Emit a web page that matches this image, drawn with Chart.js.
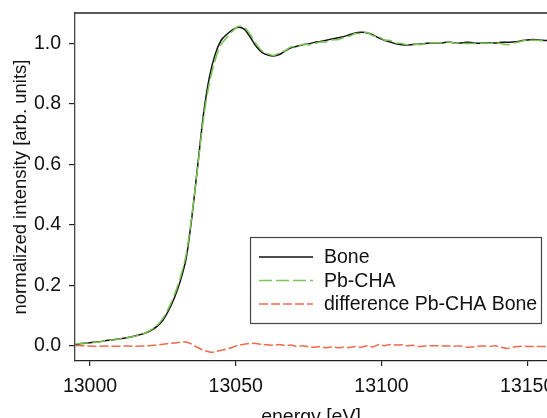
<!DOCTYPE html>
<html>
<head>
<meta charset="utf-8">
<script src="https://cdn.jsdelivr.net/npm/chart.js@4/dist/chart.umd.min.js"></script>
<style>
  html, body { margin: 0; padding: 0; background: #fff; }
  canvas { display: block; }
</style>
</head>
<body>
<canvas id="xanes" width="547" height="418"></canvas>
<script>
// DATA (energy in eV, intensities normalized)

var energy = [];
for (var e = 12995; e <= 13157; e += 2) energy.push(e);

var bone = [
    0.005, 0.008, 0.010, 0.012, 0.014, 0.017, 0.020, 0.022, 0.025, 0.028,
    0.032, 0.037, 0.043, 0.052, 0.065, 0.085, 0.118, 0.160, 0.215, 0.290,
    0.430, 0.600, 0.770, 0.890, 0.965, 1.010, 1.030, 1.045, 1.053, 1.046,
    1.020, 0.990, 0.970, 0.961, 0.958, 0.963, 0.975, 0.985, 0.990, 0.995,
    0.998, 1.003, 1.006, 1.010, 1.014, 1.018, 1.022, 1.028, 1.034, 1.036,
    1.035, 1.028, 1.018, 1.010, 1.004, 0.998, 0.995, 0.994, 0.996, 0.997,
    0.999, 1.001, 1.000, 1.002, 1.004, 1.002, 1.001, 1.003, 1.002, 1.000,
    1.001, 1.002, 1.001, 1.003, 1.003, 1.004, 1.006, 1.010, 1.012, 1.012,
    1.010, 1.009
];

var pbcha = [
    0.007, 0.009, 0.010, 0.011, 0.013, 0.017, 0.019, 0.021, 0.025, 0.028,
    0.031, 0.037, 0.043, 0.054, 0.068, 0.091, 0.126, 0.170, 0.227, 0.303,
    0.436, 0.595, 0.756, 0.870, 0.946, 0.996, 1.020, 1.041, 1.056, 1.052,
    1.029, 0.998, 0.975, 0.965, 0.960, 0.968, 0.976, 0.988, 0.988, 0.996,
    0.995, 0.999, 1.004, 1.004, 1.011, 1.012, 1.018, 1.023, 1.032, 1.032,
    1.036, 1.025, 1.022, 1.011, 1.009, 1.001, 0.999, 0.995, 0.998, 0.995,
    0.999, 1.002, 1.001, 1.002, 1.004, 1.001, 1.001, 0.999, 0.999, 0.999,
    1.001, 1.000, 1.002, 0.999, 0.995, 1.000, 1.004, 1.009, 1.010, 1.010,
    1.008, 1.007
];

var diff = [
    0.002, 0.001, 0.000, -0.001, -0.001, 0.000, -0.001, -0.001, 0.000, 0.000,
    -0.001, 0.000, 0.000, 0.002, 0.003, 0.006, 0.008, 0.010, 0.012, 0.013,
    0.006, -0.005, -0.014, -0.020, -0.019, -0.014, -0.010, -0.004, 0.003, 0.006,
    0.009, 0.008, 0.005, 0.004, 0.002, 0.005, 0.001, 0.003, -0.002, 0.001,
    -0.003, -0.004, -0.002, -0.006, -0.003, -0.006, -0.004, -0.005, -0.002, -0.004,
    0.001, -0.003, 0.004, 0.001, 0.005, 0.003, 0.004, 0.001, 0.002, -0.002,
    0.000, 0.001, 0.001, 0.000, 0.000, -0.001, 0.000, -0.004, -0.003, -0.001,
    0.000, -0.002, 0.001, -0.004, -0.008, -0.004, -0.002, -0.001, -0.002, -0.002,
    -0.002, -0.002
];

var xTicks = [13000, 13050, 13100, 13150];
var yTicks = [0.0, 0.2, 0.4, 0.6, 0.8, 1.0];

var FONT = "'Liberation Sans', Arial, sans-serif";

function pts(arr) {
    return energy.map(function (x, i) { return { x: x, y: arr[i] }; });
}

// legend drawn inside the plot, R style
var boxLegend = {
    id: 'boxLegend',
    afterDraw: function (chart) {
        var c = chart.ctx;
        var a = chart.chartArea;
        c.save();
        // top frame line
        c.strokeStyle = '#222';
        c.lineWidth = 1.3;
        c.beginPath();
        c.moveTo(a.left, a.top);
        c.lineTo(a.right, a.top);
        c.stroke();

        c.strokeStyle = '#444';
        c.lineWidth = 1.2;
        c.strokeRect(250.5, 237.5, 291, 86);

        var sets = [0, 1, 2].map(function (i) { return chart.data.datasets[i]; });
        sets.forEach(function (ds, i) {
            var y = 257 + i * 23.5;
            c.strokeStyle = ds.borderColor;
            c.lineWidth = ds.borderWidth;
            c.setLineDash(ds.borderDash || []);
            c.beginPath();
            c.moveTo(259, y);
            c.lineTo(313, y);
            c.stroke();
            c.setLineDash([]);
            c.fillStyle = '#111';
            c.font = '19.5px ' + FONT;
            c.textBaseline = 'middle';
            c.fillText(ds.label, 324, y + 1);
        });
        c.restore();
    }
};

var chart = new Chart(document.getElementById('xanes'), {
    type: 'line',
    data: {
        datasets: [{
            label: 'Bone',
            data: pts(bone),
            borderColor: '#111111',
            borderWidth: 1.5,
            pointRadius: 0,
            tension: 0.3,
            order: 1
        }, {
            label: 'Pb-CHA',
            data: pts(pbcha),
            borderColor: '#7cc655',
            borderWidth: 1.5,
            borderDash: [13, 4],
            pointRadius: 0,
            tension: 0.3,
            order: 0
        }, {
            label: 'difference Pb-CHA Bone',
            data: pts(diff),
            borderColor: '#f26a4c',
            borderWidth: 1.5,
            borderDash: [9, 3],
            pointRadius: 0,
            tension: 0.3,
            order: 2
        }]
    },
    options: {
        responsive: false,
        animation: false,
        devicePixelRatio: 1,
        layout: { padding: { top: 13, right: 0, bottom: 0, left: 0 } },
        plugins: {
            legend: { display: false },
            tooltip: { enabled: false }
        },
        scales: {
            x: {
                type: 'linear',
                min: 12994.85,
                max: 13156.8,
                afterBuildTicks: function (s) {
                    s.ticks = xTicks.map(function (v) { return { value: v }; });
                },
                afterFit: function (s) {
                    s.paddingLeft = 0;
                    s.paddingRight = 0;
                    s.height = 57;
                },
                ticks: {
                    color: '#111',
                    font: { family: FONT, size: 19.5 },
                    padding: 9,
                    maxRotation: 0,
                    callback: function (v) { return String(v); }
                },
                grid: {
                    drawOnChartArea: false,
                    drawTicks: true,
                    tickLength: 5,
                    color: '#222',
                    lineWidth: 1.2
                },
                border: { display: true, color: '#222', width: 1.3 },
                title: {
                    display: true,
                    text: 'energy [eV]',
                    color: '#111',
                    font: { family: FONT, size: 19.5 },
                    padding: { top: 0, bottom: -11 }
                }
            },
            y: {
                min: -0.0496,
                max: 1.1,
                afterBuildTicks: function (s) {
                    s.ticks = yTicks.map(function (v) { return { value: v }; });
                },
                afterFit: function (s) {
                    s.width = 75;
                    s.paddingTop = 0;
                    s.paddingBottom = 0;
                },
                ticks: {
                    color: '#111',
                    font: { family: FONT, size: 19.5 },
                    padding: 8,
                    callback: function (v) { return v.toFixed(1); }
                },
                grid: {
                    drawOnChartArea: false,
                    drawTicks: true,
                    tickLength: 6,
                    color: '#222',
                    lineWidth: 1.2
                },
                border: { display: true, color: '#444', width: 1.3 },
                title: {
                    display: true,
                    text: 'normalized intensity [arb. units]',
                    color: '#111',
                    font: { family: FONT, size: 18.5 },
                    padding: { top: 10, bottom: 0 }
                }
            }
        }
    },
    plugins: [boxLegend]
});
</script>
</body>
</html>
